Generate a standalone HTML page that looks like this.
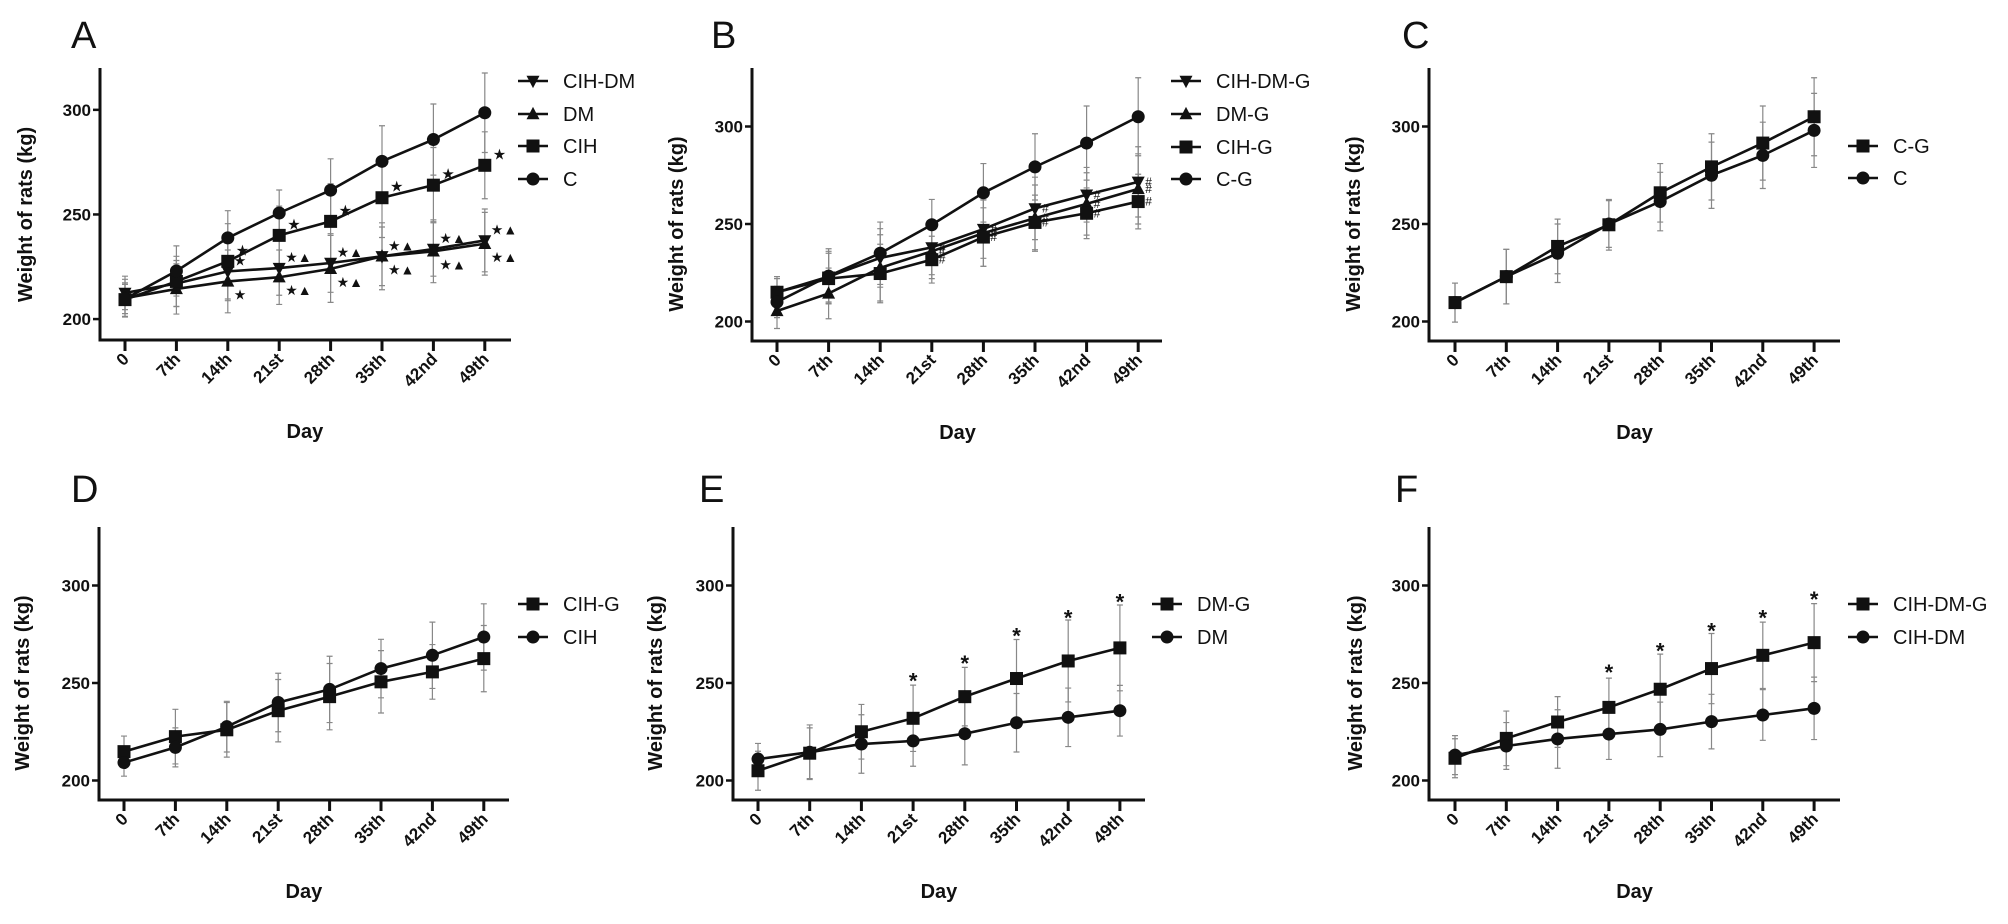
<!DOCTYPE html>
<html><head><meta charset="utf-8">
<style>
html,body{margin:0;padding:0;background:#fff;}
svg{display:block;}
text{font-family:"Liberation Sans",Arial,sans-serif;fill:#111;}
.tick{font-weight:bold;font-size:17px;}
.ttl{font-weight:bold;font-size:20px;}
.leg{font-size:20px;}
.let{font-family:"Liberation Sans Narrow","Liberation Sans",sans-serif;font-size:38px;}
</style></head>
<body>
<svg id="fig" width="2008" height="924" viewBox="0 0 2008 924" xmlns="http://www.w3.org/2000/svg"></svg>
<script>
const days = ["0","7th","14th","21st","28th","35th","42nd","49th"];
const yTicks = [200,250,300];

// Panel A
const aCIHDM = [212.5,217,222.8,224.4,226.8,230,233.5,237.6];
const aDM = [210,214.4,218,220,224,230,232.4,236];
const aCIH = [209.3,218,227.6,240,246.7,258,264,273.5];
const aC = [209.6,223,238.8,250.7,261.6,275.4,285.8,298.6];
const aCIHDMsd = [8,11,14,13,14,14,13,15];
const aDMsd = [9,12,15,13,16,16,15,15];
const aCIHsd = [8,12,18,14,18,19,18,16];
const aCsd = [7,12,13,11,15,17,17,19];
// Panel B
const bCIHDMG = [215,223,232.6,238,247.4,258,265,271.6];
const bDMG = [205.4,214.4,227.5,236,245.3,253,260.3,268];
const bCIHG = [215,222,224.6,231.7,243.3,250.8,255.5,261.5];
const bCG = [210,223.3,235,249.6,266,279.3,291.5,305];
const bCIHDMGsd = [7,13,15,14,15,16,14,18];
const bDMGsd = [9,13,17,14,17,17,16,18];
const bCIHGsd = [8,13,15,12,15,14,13,14];
const bCGsd = [8,14,16,13,15,17,19,20];
// Panel C
const cCG = [209.7,223,238.5,249.6,266,279.3,291.5,305];
const cC = [209.7,223,235,250,261.5,275,285.2,298];
const cCGsd = [10,14,14,13,15,17,19,20];
const cCsd = [10,14,15,12,15,17,17,19];
// Panel D
const dCIHG = [214.8,222.5,226,235.8,243,250.6,255.7,262.5];
const dCIH = [209.2,217,227.6,240,246.7,257.4,264.2,273.6];
const dCIHGsd = [8,14,14,16,17,16,14,17];
const dCIHsd = [7,10,13,15,17,15,17,17];
// Panel E
const eDMG = [205,214,225,231.9,243,252.3,261.3,268];
const eDM = [211,214.5,218.7,220.3,224,229.6,232.4,235.8];
const eDMGsd = [10,13,14,17,15,20,21,22];
const eDMsd = [8,14,15,13,16,15,15,13];
const eSig = [null,null,null,252.3,261.3,275.3,284.7,292.7];
// Panel F
const fCIHDMG = [211.4,221.6,230,237.5,246.8,257.4,264.2,270.7];
const fCIHDM = [213,217.7,221.3,223.8,226.2,230.2,233.6,237];
const fCIHDMGsd = [10,14,13,15,18,18,17,20];
const fCIHDMsd = [10,12,15,13,14,14,13,16];
const fSig = [null,null,null,256.6,267.6,277.9,284.7,294];

const NS = "http://www.w3.org/2000/svg";
const svg = document.getElementById('fig');
function mk(tag, attrs, parent){
  const e = document.createElementNS(NS, tag);
  for (const k in attrs) e.setAttribute(k, attrs[k]);
  (parent||svg).appendChild(e);
  return e;
}

const panels = [
 {id:'a', letter:'A', lx:71, ly:48, ax:100, x0:125, dx:51.4, xend:511, top:68, bot:340, ymin:190, ymax:320, legX:518, legY:[81,114,146,179], ttlX:25,
  series:[{n:'CIH-DM',v:aCIHDM,sd:aCIHDMsd,m:'tdown'},{n:'DM',v:aDM,sd:aDMsd,m:'tup'},{n:'CIH',v:aCIH,sd:aCIHsd,m:'sq'},{n:'C',v:aC,sd:aCsd,m:'ci'}]},
 {id:'b', letter:'B', lx:711, ly:48, ax:752, x0:777, dx:51.6, xend:1162, top:68, bot:341, ymin:190, ymax:330, legX:1171, legY:[81,114,147,179], ttlX:676,
  series:[{n:'CIH-DM-G',v:bCIHDMG,sd:bCIHDMGsd,m:'tdown'},{n:'DM-G',v:bDMG,sd:bDMGsd,m:'tup'},{n:'CIH-G',v:bCIHG,sd:bCIHGsd,m:'sq'},{n:'C-G',v:bCG,sd:bCGsd,m:'ci'}]},
 {id:'c', letter:'C', lx:1402, ly:48, ax:1429, x0:1455, dx:51.3, xend:1840, top:68, bot:341, ymin:190, ymax:330, legX:1848, legY:[146,178], ttlX:1353,
  series:[{n:'C-G',v:cCG,sd:cCGsd,m:'sq'},{n:'C',v:cC,sd:cCsd,m:'ci'}]},
 {id:'d', letter:'D', lx:71, ly:502, ax:99, x0:124, dx:51.4, xend:509, top:527, bot:800, ymin:190, ymax:330, legX:518, legY:[604,637], ttlX:22,
  series:[{n:'CIH-G',v:dCIHG,sd:dCIHGsd,m:'sq'},{n:'CIH',v:dCIH,sd:dCIHsd,m:'ci'}]},
 {id:'e', letter:'E', lx:699, ly:502, ax:733, x0:758, dx:51.7, xend:1145, top:527, bot:800, ymin:190, ymax:330, legX:1152, legY:[604,637], ttlX:655, sig:eSig,
  series:[{n:'DM-G',v:eDMG,sd:eDMGsd,m:'sq'},{n:'DM',v:eDM,sd:eDMsd,m:'ci'}]},
 {id:'f', letter:'F', lx:1395, ly:502, ax:1429, x0:1455, dx:51.3, xend:1840, top:527, bot:800, ymin:190, ymax:330, legX:1848, legY:[604,637], ttlX:1355, sig:fSig,
  series:[{n:'CIH-DM-G',v:fCIHDMG,sd:fCIHDMGsd,m:'sq'},{n:'CIH-DM',v:fCIHDM,sd:fCIHDMsd,m:'ci'}]}
];

function marker(g, type, x, y, s){
  let e;
  if (type==='sq') e = mk('rect',{x:x-s,y:y-s,width:2*s,height:2*s,fill:'#111'},g);
  else if (type==='ci') e = mk('circle',{cx:x,cy:y,r:s,fill:'#111'},g);
  else if (type==='tup') e = mk('polygon',{points:`${x},${y-s*1.1} ${x-s},${y+s*0.8} ${x+s},${y+s*0.8}`,fill:'#111'},g);
  else e = mk('polygon',{points:`${x},${y+s*1.1} ${x-s},${y-s*0.8} ${x+s},${y-s*0.8}`,fill:'#111'},g);
  return e;
}

panels.forEach(p=>{
  const X = i => p.x0 + i*p.dx;
  const Y = v => p.bot - (v - p.ymin)/(p.ymax - p.ymin)*(p.bot - p.top);
  const g = mk('g',{});
  
  

  const lt = mk('text',{x:p.lx,y:p.ly,class:'let'},g); lt.textContent = p.letter;
  
  

  const ax = mk('path',{d:`M${p.ax},${p.top} L${p.ax},${p.bot} L${p.xend},${p.bot}`,stroke:'#111','stroke-width':3,fill:'none'},g);
  
  

  yTicks.forEach(t=>{
    const y = Y(t);
    mk('line',{x1:p.ax-7,y1:y,x2:p.ax,y2:y,stroke:'#111','stroke-width':2.5},g);
    const tl = mk('text',{x:p.ax-9,y:y+6,'text-anchor':'end',class:'tick'},g); tl.textContent = t;
    
    
  });
  days.forEach((d,i)=>{
    const x = X(i);
    mk('line',{x1:x,y1:p.bot,x2:x,y2:p.bot+11,stroke:'#111','stroke-width':3},g);
    const tl = mk('text',{x:x+5,y:p.bot+20,'text-anchor':'end',class:'tick',transform:`rotate(-45 ${x+5} ${p.bot+20})`},g);
    tl.textContent = d;
    
    
  });
  const xt = mk('text',{x:(p.x0+X(7))/2,y:p.bot+98,'text-anchor':'middle',class:'ttl'},g); xt.textContent='Day';
  
  
  const cy = Y(250);
  const yt = mk('text',{x:p.ttlX,y:cy,'text-anchor':'middle',class:'ttl',transform:`rotate(-90 ${p.ttlX} ${cy})`,dy:7},g); yt.textContent='Weight of rats (kg)';
  
  

  p.series.forEach(s=>{
    s.v.forEach((v,i)=>{
      const x = X(i), y1 = Y(v - s.sd[i]), y2 = Y(v + s.sd[i]);
      const eb = mk('path',{d:`M${x},${y1} L${x},${y2} M${x-3},${y1} L${x+3},${y1} M${x-3},${y2} L${x+3},${y2}`,stroke:'#888','stroke-width':1.2,fill:'none'},g);
      
      
    });
  });
  p.series.forEach((s,si)=>{
    const d = s.v.map((v,i)=>(i?'L':'M')+X(i)+','+Y(v)).join(' ');
    const ln = mk('path',{d:d,stroke:'#111','stroke-width':2.6,fill:'none'},g);
    
    
    s.v.forEach((v,i)=>{
      const m = marker(g, s.m, X(i), Y(v), 6.5);
      
      
    });
    const ly = p.legY[si];
    const lg = mk('g',{},g);
    
    
    mk('line',{x1:p.legX,y1:ly,x2:p.legX+30,y2:ly,stroke:'#111','stroke-width':2.6},lg);
    marker(lg, s.m, p.legX+15, ly, 6.5);
    const tx = mk('text',{x:p.legX+45,y:ly+7,class:'leg'},lg); tx.textContent = s.n;
  });
  if (p.sig){
    p.sig.forEach((v,i)=>{
      if (v===null) return;
      const t = mk('text',{x:X(i),y:Y(v)+10,'text-anchor':'middle','font-size':22,'font-weight':'bold',fill:'#333'},g);
      t.textContent='*';
      
      
    });
  }
  if (p.id==='a'){
    for (let i=2;i<8;i++){
      const t1 = mk('text',{x:X(i)+8,y:Y(aCIH[i])-6,'font-size':15,fill:'#111'},g); t1.textContent='★';
      
      
      const t2 = mk('text',{x:X(i)+6,y:Y(aCIHDM[i])-6,'font-size':14,fill:'#111'},g); t2.textContent= i===2?'★':'★▲';
      
      
      const t3 = mk('text',{x:X(i)+6,y:Y(aDM[i])+18,'font-size':14,fill:'#111'},g); t3.textContent= i===2?'★':'★▲';
      
      
    }
  }
  if (p.id==='b'){
    p.series.slice(0,3).forEach(s=>{
      for (let i=3;i<8;i++){
        const t = mk('text',{x:X(i)+7,y:Y(s.v[i])+4,'font-size':12,fill:'#666'},g); t.textContent='#';
        
        
      }
    });
  }
});
</script>
</body></html>
